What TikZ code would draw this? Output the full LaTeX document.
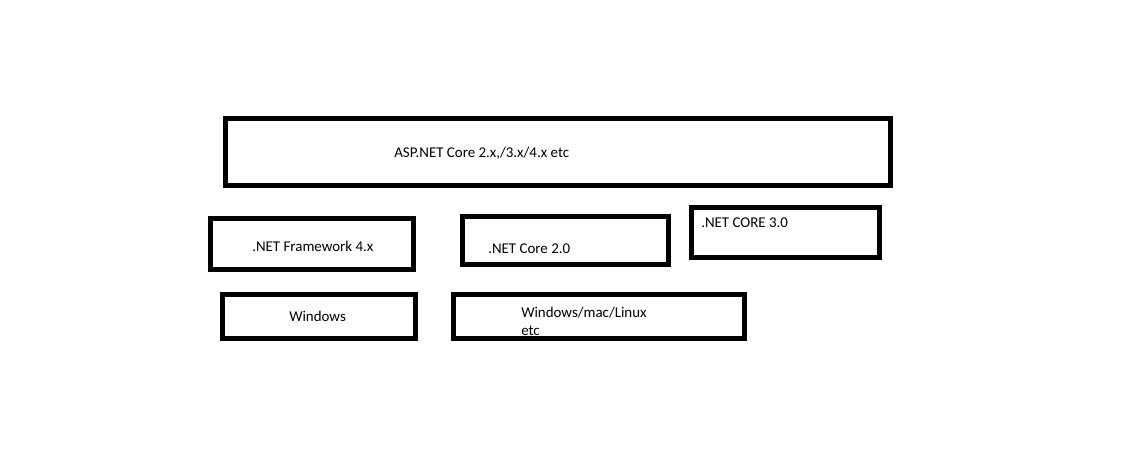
\documentclass[tikz,border=0pt]{standalone}
\usepackage{fontspec}
\setmainfont{Carlito}
\begin{document}
\begin{tikzpicture}[x=0.75pt,y=-0.75pt,
  box/.style={draw=black,line width=3.75pt,rectangle,inner sep=0pt,fill=none},
  lbl/.style={inner sep=0pt,anchor=base west,font=\fontsize{11.2}{13.5}\selectfont,text=black}]
\useasboundingbox[fill=white] (0,0) rectangle (1145,460);
% boxes
\node[box,minimum width=498.75pt,minimum height=50.25pt] (asp) at (558,152) {};
\node[box,minimum width=152.25pt,minimum height=38.25pt] (fw) at (312,244) {};
\node[box,minimum width=154.5pt,minimum height=36pt] (c2) at (565.5,240.5) {};
\node[box,minimum width=141pt,minimum height=37.5pt] (c3) at (785.5,232.5) {};
\node[box,minimum width=144.75pt,minimum height=33pt] (win) at (319,316.5) {};
\node[box,minimum width=218.25pt,minimum height=33pt] (wml) at (599,316.5) {};
% texts
\node[lbl] (taspl) at (394,157) {ASP.NET Core 2.x,/3.x/4.x etc};
\node[lbl] (tfw) at (252,251) {.NET Framework 4.x};
\node[lbl] (tc2) at (488,253) {.NET Core 2.0};
\node[lbl] (tc3) at (701,227) {.NET CORE 3.0};
\node[lbl] (twin) at (289,321) {Windows};
\node[lbl,align=left] (twml) at (521,335) {Windows/mac/Linux\\etc};
\end{tikzpicture}
\end{document}
